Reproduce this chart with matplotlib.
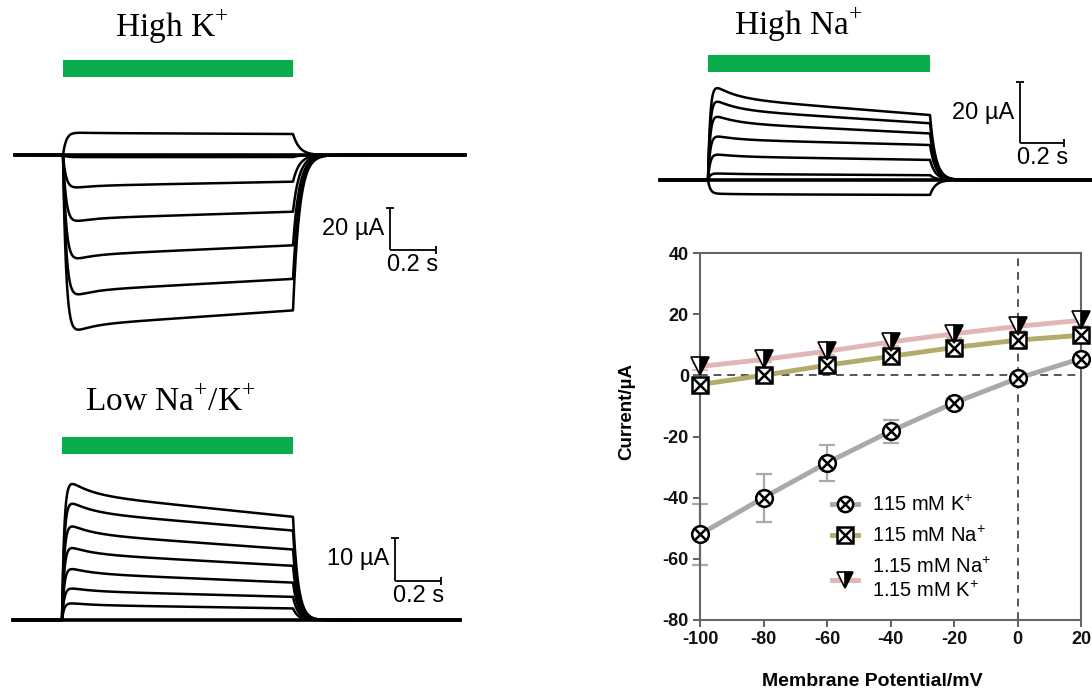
import numpy as np
import matplotlib.pyplot as plt
import matplotlib.transforms as mtransforms
from matplotlib.lines import Line2D
from matplotlib.patches import Rectangle

plt.rcParams["font.family"] = ["Liberation Sans", "DejaVu Sans"]
plt.rcParams["axes.unicode_minus"] = False

W, H = 1092, 690

# current sweeps (uA): value near pulse onset and value at the end of the 1 s pulse
pulse_dur = 1.0
hk_peak = [11.0, -1.0, -17.0, -34.0, -53.0, -71.0, -89.0]
hk_end = [10.0, -1.0, -12.7, -27.0, -43.0, -59.0, -74.0]
lnk_peak = [34.0, 29.0, 23.4, 18.0, 12.8, 7.9, 4.2]
lnk_end = [24.0, 20.8, 16.4, 12.6, 8.7, 5.4, 2.7]
hna_peak = [33.0, 28.0, 22.5, 15.2, 8.9, 2.3, -4.4]
hna_end = [21.3, 18.6, 15.3, 11.5, 6.6, 1.6, -4.9]

# I-V relation
vm = [-100, -80, -60, -40, -20, 0, 20]
k_mean = [-52.0, -40.0, -28.6, -18.3, -9.0, -1.0, 5.5]
k_err = [10.0, 7.8, 5.8, 3.8, 1.2, 1.0, 1.0]
na_mean = [-3.0, 0.0, 3.3, 6.2, 9.1, 11.5, 13.1]
na_err = [1.0, 1.0, 1.2, 1.3, 1.5, 2.0, 2.5]
low_mean = [2.9, 5.2, 7.9, 10.9, 13.6, 16.0, 18.0]
low_err = [1.0, 1.0, 1.2, 1.2, 1.5, 1.5, 1.8]

green = "#0aad4c"

fig = plt.figure(figsize=(W / 100, H / 100), dpi=100)


def px_axes(x0, y0, x1, y1):
    return fig.add_axes([x0 / W, 1 - y1 / H, (x1 - x0) / W, (y1 - y0) / H])


def sweep(t, peak, end, tau_on, tau_inact, w_fast, tau_tail):
    i = np.zeros_like(t)
    on = (t >= 0) & (t <= pulse_dur)
    tt = t[on]
    relax = w_fast * np.exp(-tt / tau_inact) + (1 - w_fast) * (1 - tt / pulse_dur)
    i[on] = (1 - np.exp(-tt / tau_on)) * (end + (peak - end) * relax)
    off = t > pulse_dur
    i[off] = end * np.exp(-(t[off] - pulse_dur) / tau_tail)
    return i


def trace_panel(rect, origin, px_s, px_ua, t_span, peaks, ends, kin):
    ax = px_axes(*rect)
    x0, y0, x1, y1 = rect
    ox, oy = origin
    ax.set_xlim((x0 - ox) / px_s, (x1 - ox) / px_s)
    ax.set_ylim((oy - y1) / px_ua, (oy - y0) / px_ua)
    ax.axis("off")
    t = np.linspace(t_span[0], t_span[1], 4000)
    for p, e in zip(peaks, ends):
        ax.plot(t, sweep(t, p, e, **kin), color="black", lw=1.8,
                solid_joinstyle="round")
    ax.plot(t_span, [0, 0], color="black", lw=2.6)
    return ax


def stim_bar(ax, y_top, y_bot):
    blend = mtransforms.blended_transform_factory(ax.transData, fig.transFigure)
    ax.add_patch(Rectangle((0, 1 - y_bot / H), pulse_dur, (y_bot - y_top) / H,
                           transform=blend, color=green, clip_on=False, lw=0))


def scale_bar(ax, corner, di, ua_text):
    cx, cy = corner
    dt = 0.2
    kw = dict(color="black", lw=1.3, solid_capstyle="butt")
    ax.plot([cx, cx], [cy, cy + di], **kw)
    ax.plot([cx, cx + dt], [cy, cy], **kw)
    ax.plot([cx], [cy + di], marker="_", ms=6, mew=1.3, color="black")
    ax.plot([cx + dt], [cy], marker="|", ms=6, mew=1.3, color="black")
    ax.annotate(ua_text, (cx, cy + di / 2), xytext=(-4, 0), textcoords="offset points",
                ha="right", va="center", fontsize=17)
    ax.annotate("0.2 s", (cx + dt / 2, cy), xytext=(0, -3), textcoords="offset points",
                ha="center", va="top", fontsize=17)


# High K+
ax1 = trace_panel((10, 95, 470, 345), (63, 155), 230, 2.1, (-0.209, 1.748),
                  hk_peak, hk_end,
                  dict(tau_on=0.014, tau_inact=0.07, w_fast=0.5, tau_tail=0.028))
stim_bar(ax1, 60, 77)
scale_bar(ax1, (1.422, -45.2), 20, "20 µA")
fig.text(172 / W, 1 - 27 / H, r"High K$^{\mathregular{+}}$", family="Liberation Serif",
         fontsize=24, ha="center", va="center")

# Low Na+/K+
ax2 = trace_panel((10, 470, 465, 632), (62, 620), 231, 4.3, (-0.212, 1.723),
                  lnk_peak, lnk_end,
                  dict(tau_on=0.01, tau_inact=0.09, w_fast=0.45, tau_tail=0.022))
stim_bar(ax2, 437, 454)
scale_bar(ax2, (1.442, 9.07), 10, "10 µA")
fig.text(170 / W, 1 - 402 / H, r"Low Na$^{\mathregular{+}}$/K$^{\mathregular{+}}$",
         family="Liberation Serif", fontsize=24, ha="center", va="center")

# High Na+
ax3 = trace_panel((655, 75, 1092, 200), (708, 180), 222, 3.05, (-0.216, 1.73),
                  hna_peak, hna_end,
                  dict(tau_on=0.01, tau_inact=0.09, w_fast=0.5, tau_tail=0.025))
stim_bar(ax3, 55, 72)
scale_bar(ax3, (1.405, 12.1), 20, "20 µA")
fig.text(798 / W, 1 - 25 / H, r"High Na$^{\mathregular{+}}$", family="Liberation Serif",
         fontsize=24, ha="center", va="center")

# I-V plot
ax = px_axes(700, 253, 1081, 620)
ax.set_xlim(-100, 20)
ax.set_ylim(-80, 40)
ax.axhline(0, ls=(0, (4, 3)), color="#555555", lw=1.4, zorder=1)
ax.axvline(0, ls=(0, (4, 3)), color="#555555", lw=1.4, zorder=1)

gray, olive, pink = "#a9a9a9", "#b3aa6c", "#e3b6b6"
for mean, err, col in [(k_mean, k_err, gray), (na_mean, na_err, olive),
                       (low_mean, low_err, pink)]:
    eb = ax.errorbar(vm, mean, yerr=err, color=col, lw=3.5, capsize=6,
                     elinewidth=1.6, capthick=1.6, zorder=2)
    for art in eb.get_children():
        art.set_clip_on(False)

mk = dict(ls="", mec="black", clip_on=False)
ax.plot(vm, k_mean, marker="o", ms=12, mfc="white", mew=1.8, zorder=4, **mk)
ax.plot(vm, k_mean, marker="x", ms=8, mew=1.8, zorder=5, **mk)
ax.plot(vm, na_mean, marker="s", ms=12, mfc="white", mew=1.8, zorder=4, **mk)
ax.plot(vm, na_mean, marker="x", ms=11, mew=1.8, zorder=5, **mk)
ax.plot(vm, low_mean, marker="v", ms=13, fillstyle="right", mfc="black",
        markerfacecoloralt="white", mew=1.2, zorder=6, **mk)

ax.set_xticks(vm)
ax.set_yticks([-80, -60, -40, -20, 0, 20, 40])
ax.tick_params(direction="out", length=5, width=1.3, color="#555555", labelsize=13,
               pad=3, labelcolor="#111111")
plt.setp(ax.get_xticklabels() + ax.get_yticklabels(), fontweight="bold")
for sp in ax.spines.values():
    sp.set_color("#666666")
    sp.set_linewidth(1.5)

fig.text(627 / W, 1 - 412 / H, "Current/µA", rotation=90, fontsize=13.5,
         fontweight="bold", ha="center", va="center")
fig.text(872 / W, 1 - 681 / H, "Membrane Potential/mV", fontsize=14,
         fontweight="bold", ha="center", va="center")

h_k = (Line2D([], [], color=gray, lw=3.5),
       Line2D([], [], marker="o", ms=11, mfc="white", mew=1.8, **mk),
       Line2D([], [], marker="x", ms=7, mew=1.8, **mk))
h_na = (Line2D([], [], color=olive, lw=3.5),
        Line2D([], [], marker="s", ms=11, mfc="white", mew=1.8, **mk),
        Line2D([], [], marker="x", ms=10, mew=1.8, **mk))
h_low = (Line2D([], [], color=pink, lw=3.5),
         Line2D([], [], marker="v", ms=12, fillstyle="right", mfc="black",
                markerfacecoloralt="white", mew=1.2, **mk))
ax.legend([h_k, h_na, h_low],
          [r"115 mM K$^{\mathregular{+}}$", r"115 mM Na$^{\mathregular{+}}$",
           "1.15 mM Na$^{\\mathregular{+}}$\n1.15 mM K$^{\\mathregular{+}}$"],
          loc="upper left", bbox_to_anchor=(832 / W, 1 - 495 / H),
          bbox_transform=fig.transFigure, frameon=False, fontsize=14.5,
          handlelength=1.3, handletextpad=0.7, labelspacing=0.55,
          borderpad=0, borderaxespad=0)

fig.savefig("out.png", dpi=100)
